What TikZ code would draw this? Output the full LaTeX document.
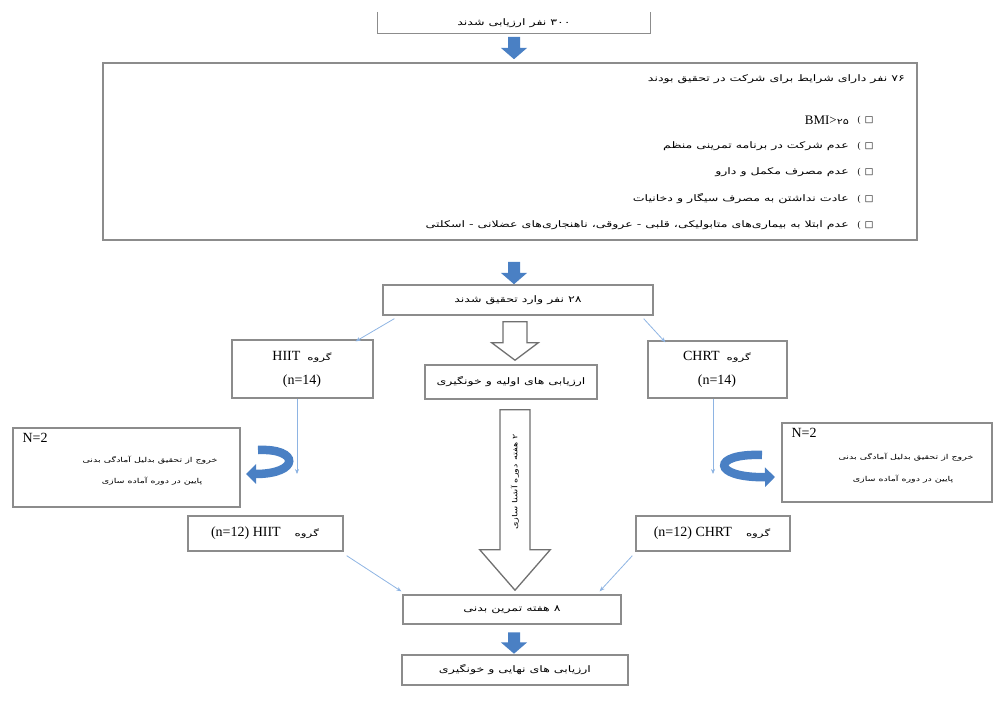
\documentclass[tikz,border=0pt]{standalone}
\usepackage{fontspec}
\setmainfont{Liberation Serif}
\newfontfamily\fa[Script=Arabic, FakeStretch=1.4]{DejaVu Sans}
\newfontfamily\symf{DejaVu Sans}
\TeXXeTstate=1
\usetikzlibrary{arrows.meta}
\definecolor{boxgray}{HTML}{8C8C8C}
\definecolor{blk}{HTML}{4A80C4}
\definecolor{thinb}{HTML}{8EB4E3}
\definecolor{hollow}{HTML}{707070}
\newcommand{\fat}[1]{{\fa\beginR #1\endR}}
\newcommand{\grp}{{\fontsize{8.5}{10}\selectfont\fa گروه}}
\tikzset{
  box/.style={draw=boxgray, line width=1.3pt, inner sep=0pt, align=center},
  fatxt/.style={inner sep=0pt, font=\fontsize{9}{11}\selectfont},
  smallfa/.style={inner sep=0pt, font=\fontsize{6.8}{9}\selectfont},
  lat/.style={inner sep=0pt, font=\fontsize{14}{16}\selectfont},
  thinarrow/.style={draw=thinb, line width=0.8pt, -{Stealth[length=5pt,width=4pt,fill=blk]}},
  uturn/.style={draw=blk, line width=8.5pt, -{Triangle[length=10pt,width=19pt]}},
  blockarrow/.style={fill=blk, draw=none},
  hollowarrow/.style={draw=hollow, line width=1.3pt, fill=white, line join=miter}
}
\begin{document}
\begin{tikzpicture}[x=1pt,y=-1pt]
\useasboundingbox (0,0) rectangle (999,701);

% top partial box
\node[inner sep=0pt, minimum width=272, minimum height=21] (top) at (514,22.5) {};
\draw[draw=boxgray, line width=1.3pt] (top.north west) -- (top.south west) -- (top.south east) -- (top.north east);
\node[fatxt] (topt) at (514,23) {\fat{۳۰۰ نفر ارزیابی شدند}};

% block arrow 1
\node[inner sep=0pt, minimum width=26, minimum height=22] (ba1) at (514,48) {};
\fill[blockarrow] ([xshift=-6pt]ba1.north) -- ([xshift=6pt]ba1.north) -- ([xshift=6pt,yshift=-11pt]ba1.north) -- ([yshift=-11pt]ba1.north east) -- (ba1.south) -- ([yshift=-11pt]ba1.north west) -- ([xshift=-6pt,yshift=-11pt]ba1.north) -- cycle;

% criteria box
\node[box, minimum width=814, minimum height=177] (crit) at (510,151.5) {};
\node[fatxt, anchor=east] (h) at (905,79) {\fat{۷۶ نفر دارای شرایط برای شرکت در تحقیق بودند}};
\foreach \yy/\nm in {120/m1,146/m2,172/m3,199/m4,225/m5}{
  \node[inner sep=0pt, font=\fontsize{9}{10}\selectfont\symf] (\nm b) at (869,\yy) {□};
  \node[inner sep=0pt, font=\fontsize{9}{10}\selectfont] (\nm p) at (859,\yy) {(};
}
\node[inner sep=0pt, anchor=east, font=\fontsize{13}{14}\selectfont] (r1) at (849,120) {BMI>{\fontsize{8}{10}\selectfont\fa ۲۵}};
\node[fatxt, anchor=east] (r2) at (849,146) {\fat{عدم شرکت در برنامه تمرینی منظم}};
\node[fatxt, anchor=east] (r3) at (849,172) {\fat{عدم مصرف مکمل و دارو}};
\node[fatxt, anchor=east] (r4) at (849,199) {\fat{عادت نداشتن به مصرف سیگار و دخانیات}};
\node[fatxt, anchor=east] (r5) at (849,225) {\fat{عدم ابتلا به بیماری‌های متابولیکی، قلبی - عروقی، ناهنجاری‌های عضلانی - اسکلتی}};

% block arrow 2
\node[inner sep=0pt, minimum width=26, minimum height=22] (ba2) at (514,273) {};
\fill[blockarrow] ([xshift=-6pt]ba2.north) -- ([xshift=6pt]ba2.north) -- ([xshift=6pt,yshift=-11pt]ba2.north) -- ([yshift=-11pt]ba2.north east) -- (ba2.south) -- ([yshift=-11pt]ba2.north west) -- ([xshift=-6pt,yshift=-11pt]ba2.north) -- cycle;

% entered box
\node[box, minimum width=270, minimum height=30, fatxt] (enter) at (518,300) {\fat{۲۸ نفر وارد تحقیق شدند}};

% group boxes
\node[box, minimum width=141, minimum height=58] (hiit) at (302.5,369) {};
\node[lat] (hiitt1) at (302,357) {\beginR\grp\ \ \beginL HIIT\endL\endR};
\node[lat] (hiitt2) at (302,381) {(n=14)};
\node[box, minimum width=139, minimum height=57] (chrt) at (717.5,369.5) {};
\node[lat] (chrtt1) at (717,357) {\beginR\grp\ \ \beginL CHRT\endL\endR};
\node[lat] (chrtt2) at (717,381) {(n=14)};

\draw[thinarrow] ([xshift=12pt,yshift=-3pt]enter.south west) -- ([xshift=-18pt,yshift=-2pt]hiit.north east);
\draw[thinarrow] ([xshift=-10pt,yshift=-3pt]enter.south east) -- ([xshift=18pt,yshift=-2pt]chrt.north west);

% small hollow arrow
\node[inner sep=0pt, minimum width=46, minimum height=38] (ha1) at (515,341) {};
\draw[hollowarrow] ([xshift=-12pt]ha1.north) -- ([xshift=12pt]ha1.north) -- ([xshift=12pt,yshift=-21pt]ha1.north) -- ([yshift=-21pt]ha1.north east) -- (ha1.south) -- ([yshift=-21pt]ha1.north west) -- ([xshift=-12pt,yshift=-21pt]ha1.north) -- cycle;

% baseline box
\node[box, minimum width=172, minimum height=34, fatxt] (base) at (511,382) {\fat{ارزیابی های اولیه و خونگیری}};

% big hollow arrow
\node[inner sep=0pt, minimum width=70, minimum height=180] (ha2) at (515,500) {};
\draw[hollowarrow] ([xshift=-15pt]ha2.north) -- ([xshift=15pt]ha2.north) -- ([xshift=15pt,yshift=-140pt]ha2.north) -- ([yshift=-140pt]ha2.north east) -- (ha2.south) -- ([yshift=-140pt]ha2.north west) -- ([xshift=-15pt,yshift=-140pt]ha2.north) -- cycle;
\node[inner sep=0pt, font=\fontsize{7}{9}\selectfont, rotate=90] (ha2t) at (515,482) {\fat{۲ هفته دوره آشنا سازی}};

% thin vertical arrows
\coordinate (hiitEnd) at (297,474);
\coordinate (chrtEnd) at (713,474);
\draw[thinarrow] (hiit.south -| hiitEnd) -- (hiitEnd);
\draw[thinarrow] (chrt.south -| chrtEnd) -- (chrtEnd);

% exclusion boxes
\node[box, minimum width=227, minimum height=79] (exL) at (126.5,467.5) {};
\node[lat, anchor=north west] (exLn) at ([shift={(10,6)}]exL.north west) {N=2};
\node[smallfa] (exL1) at (150,460) {\fat{خروج از تحقیق بدلیل آمادگی بدنی}};
\node[smallfa] (exL2) at (152,481) {\fat{پایین در دوره آماده سازی}};

\node[box, minimum width=210, minimum height=79] (exR) at (887,462.5) {};
\node[lat, anchor=north west] (exRn) at ([shift={(10,6)}]exR.north west) {N=2};
\node[smallfa] (exR1) at (906,457) {\fat{خروج از تحقیق بدلیل آمادگی بدنی}};
\node[smallfa] (exR2) at (903,479) {\fat{پایین در دوره آماده سازی}};

% u-turn arrows
\coordinate (uLs) at (258,450);
\coordinate (uLe) at (246,474);
\draw[uturn] (uLs) .. controls (300,448) and (300,474) .. (uLe);
\coordinate (uRs) at (762,455);
\coordinate (uRe) at (775,477);
\draw[uturn] (uRs) .. controls (711,453) and (711,478) .. (uRe);

% n=12 boxes
\node[box, minimum width=155, minimum height=35] (hiit12) at (265.5,533.5) {};
\node[lat] (hiit12t) at (265,533) {\beginR\grp\quad\beginL (n=12) HIIT\endL\endR};
\node[box, minimum width=154, minimum height=35] (chrt12) at (713,533.5) {};
\node[lat] (chrt12t) at (712,533) {\beginR\grp\quad\beginL (n=12) CHRT\endL\endR};

% training box
\node[box, minimum width=218, minimum height=29, fatxt] (train) at (512,609.5) {\fat{۸ هفته تمرین بدنی}};
\draw[thinarrow] ([shift={(3,4)}]hiit12.south east) -- ([shift={(-1,-3)}]train.north west);
\draw[thinarrow] ([shift={(-3,4)}]chrt12.south west) -- ([shift={(-22,-3)}]train.north east);

% block arrow 3
\node[inner sep=0pt, minimum width=26, minimum height=21] (ba3) at (514,643) {};
\fill[blockarrow] ([xshift=-6pt]ba3.north) -- ([xshift=6pt]ba3.north) -- ([xshift=6pt,yshift=-10pt]ba3.north) -- ([yshift=-10pt]ba3.north east) -- (ba3.south) -- ([yshift=-10pt]ba3.north west) -- ([xshift=-6pt,yshift=-10pt]ba3.north) -- cycle;

% final box
\node[box, minimum width=226, minimum height=30, fatxt] (final) at (515,670) {\fat{ارزیابی های نهایی و خونگیری}};
\end{tikzpicture}
\end{document}
